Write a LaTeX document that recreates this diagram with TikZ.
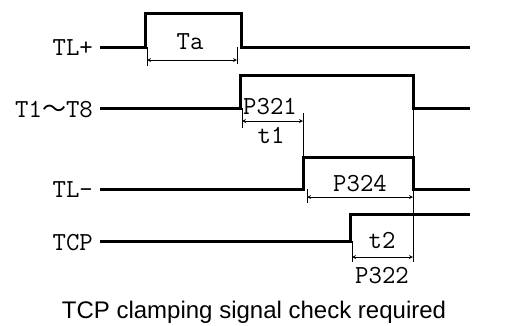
\documentclass[tikz,border=0pt]{standalone}
\usepackage{fontspec}
\setmainfont{Liberation Sans}
\newfontfamily\cjkfont{Noto Sans CJK SC}
\begin{document}
\begin{tikzpicture}[x=1pt, y=-1pt, >=stealth, line join=miter,
		sig/.style={line width=3pt},
		dim/.style={line width=0.8pt},
		lbl/.style={font=\fontsize{26}{26}\selectfont\ttfamily, inner sep=0pt}]
			\useasboundingbox (0,0) rectangle (508,325);
			% signal names
			\node[lbl, anchor=base east] (tlp) at (93,55) {TL+};
			\node[lbl, anchor=base east] (tt) at (93,117) {T1{\cjkfont\fontsize{24}{24}\selectfont ～}T8};
			\node[lbl, anchor=base east] (tlm) at (93,197) {TL-};
			\node[lbl, anchor=base east] (tcp) at (93,250) {TCP};
			% waveforms
			\draw[sig] (100,47) -- (145,47) -- (145,13) -- (241,13) -- (241,47) -- (470,47);
			\draw[sig] (100,108) -- (240,108) -- (240,75) -- (413,75) -- (413,108) -- (470,108);
			\draw[sig] (100,189) -- (303,189) -- (303,157) -- (413,157) -- (413,189) -- (470,189);
			\draw[sig] (100,241) -- (350,241) -- (350,214) -- (470,214);
			% extension lines
			\draw[dim] (147,47) -- (147,66);
			\draw[dim] (237,47) -- (237,64);
			\draw[dim] (242,108) -- (242,128);
			\draw[dim] (303,113) -- (303,157);
			\draw[dim] (307,189) -- (307,203);
			\draw[dim] (413,108) -- (413,262);
			\draw[dim] (352,241) -- (352,262);
			% times
			\draw[dim, <->] (147,60) -- (237,60);
			\draw[dim, <->] (242,121) -- (303,121);
			\draw[dim, <->] (307,197) -- (413,197);
			\draw[dim, <->] (352,257) -- (413,257);
			\node[lbl, anchor=base] (ta) at (190,49) {Ta};
			\node[lbl, anchor=base] (p321) at (270,114) {P321};
			\node[lbl, anchor=base] (t1) at (271,143) {t1};
			\node[lbl, anchor=base] (p324) at (360,191) {P324};
			\node[lbl, anchor=base] (t2) at (382,248) {t2};
			\node[lbl, anchor=base] (p322) at (382,283) {P322};
			\node[font=\fontsize{24}{24}\selectfont, anchor=base] (cap) at (254,318) {TCP clamping signal check required};
	\end{tikzpicture}
\end{document}
